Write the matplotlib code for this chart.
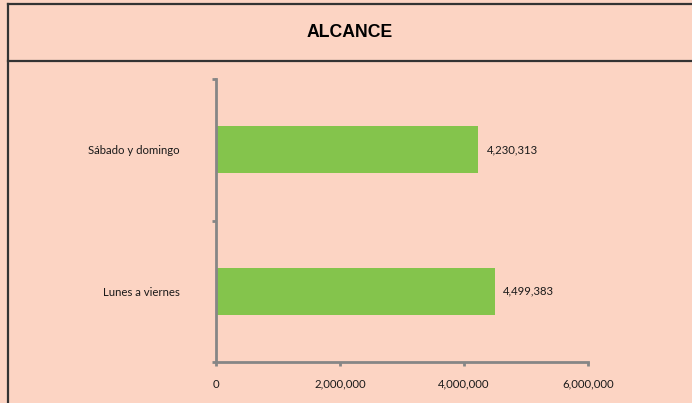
import matplotlib
matplotlib.use("Agg")
import matplotlib.pyplot as plt
from matplotlib.lines import Line2D
from matplotlib.ticker import FuncFormatter

# ── Data ─────────────────────────────────────────────────────────────
categories = ["Lunes a viernes", "Sábado y domingo"]
alcance = [4499383, 4230313]
x_ticks = [0, 2000000, 4000000, 6000000]

BG = "#FCD4C3"
GREEN = "#84C44C"
AXIS_GRAY = "#868686"

plt.rcParams["font.family"] = ["Lato", "DejaVu Sans"]

fig = plt.figure(figsize=(6.92, 4.03), dpi=100, facecolor=BG)
W, H = 692, 403

# ── Frame lines (title box) ──────────────────────────────────────────
def fx(px):
    return px / W

def fy(py):
    return 1 - py / H

for xs, ys in [((7.5, W), (3.5, 3.5)),
               ((7.5, W), (60.5, 60.5)),
               ((7.5, 7.5), (3.5, H))]:
    fig.add_artist(Line2D([fx(x) for x in xs], [fy(y) for y in ys],
                          color="#333333", linewidth=1.6))

fig.text(fx(350), fy(32.5), "ALCANCE", ha="center", va="center",
         fontsize=12.7, fontweight="bold", family="Liberation Sans")

# ── Chart ────────────────────────────────────────────────────────────
ax = fig.add_axes([216 / W, 1 - 362 / H, (588 - 216) / W, (362 - 79) / H])
ax.set_facecolor(BG)

ypos = list(range(len(categories)))
bars = ax.barh(ypos, alcance, height=0.33, color=GREEN)
ax.bar_label(bars, labels=[f"{v:,}" for v in alcance], padding=6,
             fontsize=8.2, color="#1a1a1a")

ax.set_xlim(0, 6000000)
ax.set_ylim(-0.5, len(categories) - 0.5)

ax.set_xticks(x_ticks)
ax.xaxis.set_major_formatter(FuncFormatter(lambda v, p: f"{int(v):,}"))
ax.set_yticks([-0.5, 0.5, 1.5])
ax.set_yticklabels([])
ax.set_yticks(ypos, minor=True)
ax.set_yticklabels(categories, minor=True)

for s in ["top", "right"]:
    ax.spines[s].set_visible(False)
for s in ["left", "bottom"]:
    ax.spines[s].set_color(AXIS_GRAY)
    ax.spines[s].set_linewidth(2)

ax.tick_params(axis="x", direction="out", length=3, width=2,
               color=AXIS_GRAY, labelsize=8.2, labelcolor="#1a1a1a", pad=9)
ax.tick_params(axis="y", which="major", direction="out", length=3, width=2,
               color=AXIS_GRAY)
ax.tick_params(axis="y", which="minor", length=0, labelsize=8.2,
               labelcolor="#1a1a1a", pad=26)

fig.savefig("out.png", dpi=100, facecolor=BG)
